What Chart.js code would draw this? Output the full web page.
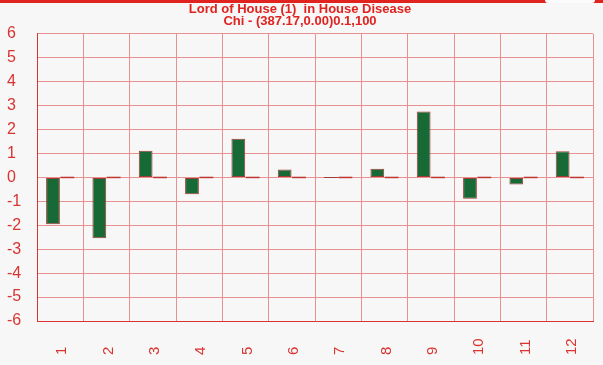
<!DOCTYPE html>
<html>
<head>
<meta charset="utf-8">
<script src="https://cdn.jsdelivr.net/npm/chart.js@4/dist/chart.umd.min.js"></script>
<style>
    html, body { margin: 0; padding: 0; background: #f7f7f7; }
    #wrap { position: relative; width: 603px; height: 365px; }
    #topbar { position: absolute; left: 0; top: 0; width: 603px; height: 3px; background: #e0231f; }
    #tab { position: absolute; left: 545px; top: 0; width: 50px; height: 3px; background: #fbfbfb; border-radius: 0 0 4px 4px; }
</style>
</head>
<body>
<div id="wrap">
    <canvas id="chart" width="603" height="365"></canvas>
    <div id="topbar"></div>
    <div id="tab"></div>
</div>
<script>
const categories = ['1', '2', '3', '4', '5', '6', '7', '8', '9', '10', '11', '12'];
const houseValues = [-1.96, -2.54, 1.12, -0.7, 1.62, 0.33, 0, 0.36, 2.76, -0.89, -0.29, 1.1];
const zeroValues = [0, 0, 0, 0, 0, 0, 0, 0, 0, 0, 0, 0];
const yTicks = [-6, -5, -4, -3, -2, -1, 0, 1, 2, 3, 4, 5, 6];
const titleLines = ['Lord of House (1)  in House Disease', 'Chi - (387.17,0.00)0.1,100'];

const red = '#d9342f';
const gridPink = '#e99191';

// x labels drawn bottom-aligned, rotated, like the original
const bottomLabels = {
    id: 'bottomLabels',
    afterDraw(chart) {
        const ctx = chart.ctx;
        const xs = chart.scales.x;
        ctx.save();
        ctx.fillStyle = red;
        ctx.font = '15px "Liberation Sans", Arial, sans-serif';
        ctx.textAlign = 'left';
        ctx.textBaseline = 'middle';
        categories.forEach((c, i) => {
            const x = xs.getPixelForValue(i) + 2;
            ctx.save();
            ctx.translate(x, 355);
            ctx.rotate(-Math.PI / 2);
            ctx.fillText(c, 0, 0);
            ctx.restore();
        });
        ctx.restore();
    }
};

new Chart(document.getElementById('chart').getContext('2d'), {
    type: 'bar',
    data: {
        labels: categories,
        datasets: [{
            data: houseValues,
            backgroundColor: '#176a35',
            borderColor: '#a33b35',
            borderWidth: 1,
            borderSkipped: false,
            minBarLength: 1
        }, {
            data: zeroValues,
            backgroundColor: '#c0352f',
            borderWidth: 0,
            minBarLength: 1.5
        }]
    },
    options: {
        responsive: false,
        animation: false,
        layout: { padding: { left: 7, right: 10, top: 0, bottom: 44 } },
        datasets: { bar: { categoryPercentage: 0.62, barPercentage: 0.96 } },
        scales: {
            x: {
                grid: { color: gridPink, drawTicks: false },
                border: { color: red },
                ticks: { display: false }
            },
            y: {
                min: -6,
                max: 6,
                afterBuildTicks: (axis) => { axis.ticks = yTicks.map(v => ({ value: v })); },
                afterFit: (axis) => { axis.width = 30; },
                grid: { color: gridPink, drawTicks: false },
                border: { color: red },
                ticks: {
                    color: red,
                    crossAlign: 'far',
                    padding: 4,
                    font: { family: '"Liberation Sans", Arial, sans-serif', size: 16 }
                }
            }
        },
        plugins: {
            legend: { display: false },
            tooltip: { enabled: false },
            title: {
                display: true,
                text: titleLines,
                color: '#e0231f',
                font: { family: '"Liberation Sans", Arial, sans-serif', size: 13, weight: 'bold', lineHeight: 0.92 },
                padding: { top: 3, bottom: 7 }
            }
        }
    },
    plugins: [bottomLabels]
});
</script>
</body>
</html>
